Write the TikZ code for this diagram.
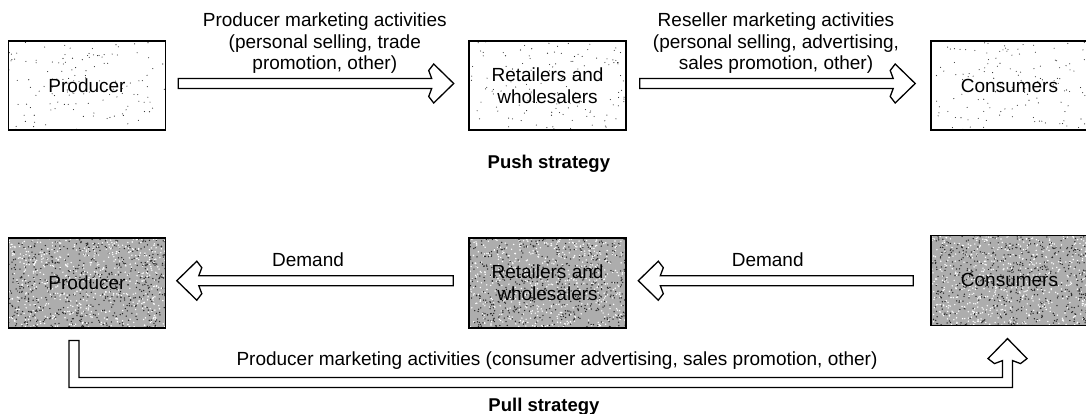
\documentclass[tikz,border=0pt]{standalone}
\usepackage{fontspec}
\setmainfont{Liberation Sans}
\usepackage{xcolor}
\usetikzlibrary{calc,positioning}

\begin{document}
\begin{tikzpicture}[x=1pt,y=-1pt]
			\pgfmathsetseed{2024}
			\tikzset{
				labelfont/.style={font=\fontsize{19}{21.7}\selectfont,text=black,align=center,inner sep=0pt},
				titlefont/.style={font=\bfseries\fontsize{18.5}{22}\selectfont,text=black,inner sep=0pt},
				stipple/.style={path picture={
						\foreach \k in {1,...,#1}{%
							\fill[black!85] ($(path picture bounding box.north west)!rnd!(path picture bounding box.north east)+(0,{rnd*92})$) circle (0.55pt);
						}
				}},
				grain/.style={path picture={
						\foreach \k in {1,...,#1}{%
							\fill[white] ($(path picture bounding box.north west)!rnd!(path picture bounding box.north east)+(0,{rnd*92})$) circle (0.8pt);
							\fill[black!85] ($(path picture bounding box.north west)!rnd!(path picture bounding box.north east)+(0,{rnd*92})$) circle (0.75pt);
						}
				}},
				lightbox/.style={draw,line width=1.6pt,fill=white,stipple=140,minimum width=157pt,minimum height=89pt,labelfont},
				darkbox/.style={draw,line width=1.6pt,fill=gray!64,grain=600,minimum width=157pt,minimum height=90pt,labelfont},
				outline/.style={draw,line width=1.3pt,fill=white,line join=miter},
				hollow/.style={outline,to path={
						($(\tikztostart)!5pt!90:(\tikztotarget)$)
						-- ($(\tikztotarget)!22pt!(\tikztostart)!5pt!-90:(\tikztostart)$)
						-- ($(\tikztotarget)!25pt!(\tikztostart)!13pt!-90:(\tikztostart)$)
						-- ($(\tikztotarget)!20pt!(\tikztostart)!19.5pt!-90:(\tikztostart)$)
						-- (\tikztotarget)
						-- ($(\tikztotarget)!20pt!(\tikztostart)!19.5pt!90:(\tikztostart)$)
						-- ($(\tikztotarget)!25pt!(\tikztostart)!13pt!90:(\tikztostart)$)
						-- ($(\tikztotarget)!22pt!(\tikztostart)!5pt!90:(\tikztostart)$)
						-- ($(\tikztostart)!5pt!-90:(\tikztotarget)$)
						-- cycle}}
			}
		\useasboundingbox (0,0) rectangle (1086,414);
		%%%Push strategy: cac o
		\path (87,85.5) node[lightbox] (prodA) {Producer};
		\path (547.5,85.5) node[lightbox] (retA) {Retailers and\\wholesalers};
		\path (1009.5,85.5) node[lightbox] (conA) {Consumers};
		%%%mui ten day
		\coordinate (a1s) at ($(prodA.east)+(12,-2)$);
		\coordinate (a1t) at ($(retA.west)+(-14.5,-2)$);
		\coordinate (a2s) at ($(retA.east)+(13,-2)$);
		\coordinate (a2t) at ($(conA.west)+(-15,-2)$);
		\draw[hollow] (a1s) to (a1t);
		\draw[hollow] (a2s) to (a2t);
		\path (324.8,43.3) node[labelfont] (pushA) {Producer marketing activities\\(personal selling, trade\\promotion, other)};
		\path (776,43.3) node[labelfont] (pushB) {Reseller marketing activities\\(personal selling, advertising,\\sales promotion, other)};
		\path (548.9,163.3) node[titlefont] (push) {Push strategy};
		%%%Pull strategy: cac o
		\path (87,282.7) node[darkbox] (prodB) {Producer};
		\path (547.5,282.7) node[darkbox] (retB) {Retailers and\\wholesalers};
		\path (1009.5,280.3) node[darkbox] (conB) {Consumers};
		%%%mui ten keo
		\coordinate (d1s) at ($(retB.west)+(-15,-2)$);
		\coordinate (d1t) at ($(prodB.east)+(10.5,-2)$);
		\coordinate (d2s) at ($(conB.west)+(-17,0.4)$);
		\coordinate (d2t) at ($(retB.east)+(11.5,-2)$);
		\draw[hollow] (d1s) to (d1t);
		\draw[hollow] (d2s) to (d2t);
		\path (308,260) node[labelfont] (demA) {Demand};
		\path (767.7,260) node[labelfont] (demB) {Demand};
		%%%mui ten gap khuc
		\coordinate (pullS) at ($(prodB.south)+(-13,12)$);
		\coordinate (pullC) at ($(pullS)+(0,42)$);
		\coordinate (pullT) at ($(conB.south)+(-2,12.5)$);
		\path[outline] ($(pullS)+(-5,0)$) -- ($(pullS)+(5,0)$) -- ($(pullC)+(5,-5)$)
			-- ($(pullT|-pullC)+(-5,-5)$) -- ($(pullT)+(-5,22)$) -- ($(pullT)+(-13,25)$)
			-- ($(pullT)+(-19.5,20)$) -- (pullT) -- ($(pullT)+(19.5,20)$) -- ($(pullT)+(13,25)$)
			-- ($(pullT)+(5,22)$) -- ($(pullT|-pullC)+(5,5)$) -- ($(pullC)+(-5,5)$) -- cycle;
		\path (557,360.3) node[labelfont] (pullL) {Producer marketing activities (consumer advertising, sales promotion, other)};
		\path (544,407) node[titlefont] (pull) {Pull strategy};
	\end{tikzpicture}
\end{document}
